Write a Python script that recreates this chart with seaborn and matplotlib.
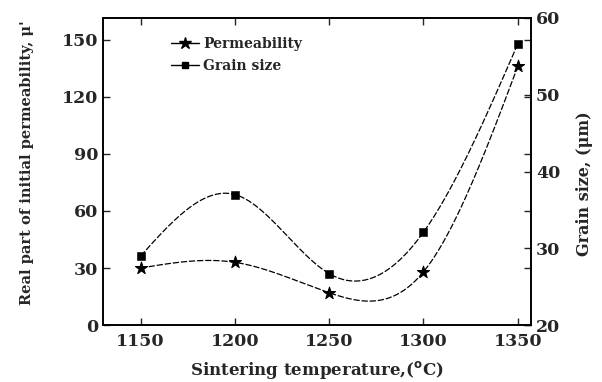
import matplotlib
matplotlib.use("Agg")
import matplotlib.pyplot as plt
import seaborn as sns
import numpy as np
import pandas as pd

# values
temperature = [1150, 1200, 1250, 1300, 1350]
permeability = [30, 33, 17, 28, 136]
grain_size = [29.0, 37.0, 26.7, 32.1, 56.6]


# natural cubic spline through the measured points (smooth connecting curve)
def natural_spline(x, y, xs):
    x = np.asarray(x, float)
    y = np.asarray(y, float)
    n = len(x)
    h = np.diff(x)
    A = np.zeros((n, n))
    b = np.zeros(n)
    A[0, 0] = A[-1, -1] = 1
    for i in range(1, n - 1):
        A[i, i - 1] = h[i - 1]
        A[i, i] = 2 * (h[i - 1] + h[i])
        A[i, i + 1] = h[i]
        b[i] = 3 * ((y[i + 1] - y[i]) / h[i] - (y[i] - y[i - 1]) / h[i - 1])
    c = np.linalg.solve(A, b)
    seg = np.clip(np.searchsorted(x, xs) - 1, 0, n - 2)
    dx = xs - x[seg]
    bb = (y[seg + 1] - y[seg]) / h[seg] - h[seg] * (2 * c[seg] + c[seg + 1]) / 3
    d = (c[seg + 1] - c[seg]) / (3 * h[seg])
    return y[seg] + bb * dx + c[seg] * dx ** 2 + d * dx ** 3


sns.set_style("ticks")
plt.rcParams['font.family'] = ['DejaVu Serif']
plt.rcParams['font.weight'] = 'bold'

pts = pd.DataFrame({'T': temperature, 'perm': permeability, 'grain': grain_size})
xs = np.linspace(temperature[0], temperature[-1], 300)
curve = pd.DataFrame({'T': xs,
                      'perm': natural_spline(temperature, permeability, xs),
                      'grain': natural_spline(temperature, grain_size, xs)})

fig = plt.figure(figsize=(6.02, 3.82), dpi=100)
ax = fig.add_axes([0.171, 0.149, 0.711, 0.804])
ax2 = ax.twinx()

dash = (0, (5, 1.5))
sns.lineplot(data=curve, x='T', y='perm', ax=ax, color='black', lw=0.9, linestyle=dash)
sns.lineplot(data=curve, x='T', y='grain', ax=ax2, color='black', lw=0.9, linestyle=dash)
sns.scatterplot(data=pts, x='T', y='perm', ax=ax, marker='*', s=85, color='black',
                edgecolor='black', zorder=5)
sns.scatterplot(data=pts, x='T', y='grain', ax=ax2, marker='s', s=28, color='black',
                edgecolor='black', zorder=5)

ax.set_xlim(1130, 1357)
ax.set_ylim(0, 161.5)
ax2.set_ylim(20, 60)
ax.set_xticks(temperature)
ax.set_yticks(range(0, 151, 30))
ax2.set_yticks(range(20, 61, 10))

ax.tick_params(direction='in', length=5, width=1, top=True, right=True, labelsize=12.5)
ax.tick_params(axis='x', pad=6)
ax2.tick_params(direction='in', length=5, width=1, labelsize=12.5)

ax.set_xlabel('Sintering temperature,($^{\\bf o}$C)', fontsize=12, fontweight='bold')
ax.set_ylabel("Real part of initial permeability, μ'", fontsize=10.5, fontweight='bold')
ax2.set_ylabel('Grain size, (μm)', fontsize=11.5, fontweight='bold')
ax.yaxis.set_label_coords(-0.16, 0.53)
ax.xaxis.set_label_coords(0.5, -0.11)
ax2.yaxis.set_label_coords(1.105, 0.46)

for a in (ax, ax2):
    for sp in a.spines.values():
        sp.set_linewidth(1.2)
        sp.set_color('black')

# legend handles built from the same styles
h1 = plt.Line2D([], [], color='black', lw=1, marker='*', markersize=9)
h2 = plt.Line2D([], [], color='black', lw=1, marker='s', markersize=5)
ax.legend([h1, h2], ['Permeability', 'Grain size'], loc='upper left',
          bbox_to_anchor=(0.13, 0.98), frameon=False, fontsize=10,
          handlelength=2.0, labelspacing=0.6, handletextpad=0.3)

fig.savefig('out.png', dpi=100)
